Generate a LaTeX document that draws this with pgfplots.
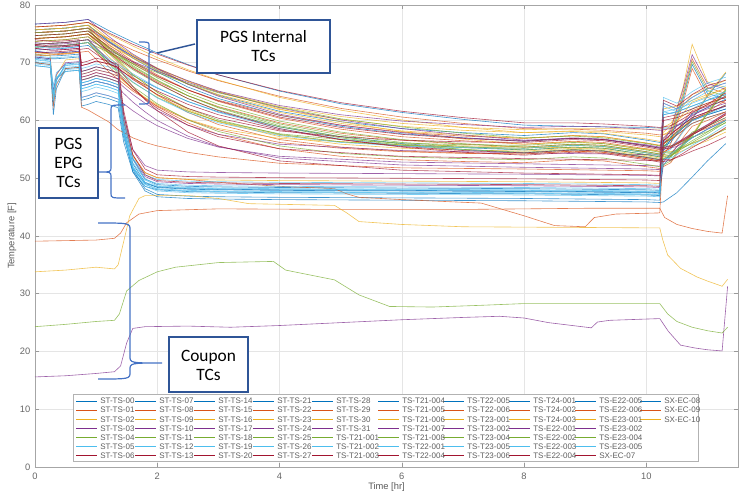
\documentclass[border=0pt]{standalone}
\usepackage{pgfplots}
\pgfplotsset{compat=1.18}
\usepackage{fontspec}
\setmainfont{Liberation Sans}
\newfontfamily\calibri{Carlito}
\definecolor{mb}{RGB}{0,114,189}
\definecolor{mo}{RGB}{217,83,25}
\definecolor{my}{RGB}{237,177,32}
\definecolor{mp}{RGB}{126,47,142}
\definecolor{mg}{RGB}{119,172,48}
\definecolor{mc}{RGB}{77,190,238}
\definecolor{mr}{RGB}{162,20,47}
\definecolor{legtext}{RGB}{95,95,95}
\definecolor{annblue}{RGB}{47,85,151}
\definecolor{brblue}{RGB}{68,114,196}
\begin{document}
\begin{tikzpicture}
\begin{axis}[
 scale only axis, width=527.25pt, height=346.5pt,
 xmin=0, xmax=11.5, ymin=0, ymax=80,
 xtick={0,2,4,6,8,10}, ytick={0,10,20,30,40,50,60,70,80},
 grid=major, major grid style={black!10, line width=0.4pt},
 axis line style={black!35, line width=0.4pt},
 tick style={black!40, line width=0.4pt}, tick align=inside, major tick length=3pt,
 ticklabel style={font=\fontsize{7}{8}\selectfont, text=black!60},
 xticklabel style={yshift=-1pt},
 /pgf/number format/assume math mode=true,
 xlabel={Time [hr]}, ylabel={Temperature [F]},
 label style={font=\fontsize{7}{8}\selectfont, text=black!65},
 xlabel style={at={(axis description cs:0.5,-0.044)}, anchor=center},
 ylabel style={at={(axis description cs:-0.0327,0.5)}, anchor=center},
 no markers,
 every axis plot/.append style={line width=0.45pt, opacity=0.75},
]
%%%%%%%% ROW 0 (blue)
\addplot[draw=mb] coordinates {(0,70)(0.25,69.7)(0.3,61)(0.35,65.5)(0.5,69)(0.72,69.2)(0.76,62.5)(0.87,62.8)(1,63.3)(1.2,62.8)(1.36,62.2)(1.45,56.3)(1.6,51.1)(1.8,48.6)(2,48.0)(2.5,47.7)(3,47.6)(4,47.5)(6,47.4)(8,47.3)(10,47.1)(10.22,47.0)(10.28,61)(10.5,61.5)(10.75,62.5)(11,63.5)(11.3,64.5)};
\addplot[draw=mb] coordinates {(0,71)(0.25,70.7)(0.3,70.7)(0.35,70.7)(0.5,70.8)(0.72,71)(0.76,67)(0.87,67.3)(1,67.8)(1.2,67.3)(1.36,66.7)(1.45,59.1)(1.6,52.5)(1.8,49.3)(2,48.4)(2.5,48.1)(3,48.0)(4,47.9)(6,47.8)(8,47.7)(10,47.5)(10.22,47.4)(10.28,56)(10.5,58)(10.75,60)(11,61)(11.3,62)};
\addplot[draw=mb] coordinates {(0,76.7)(0.5,77.0)(0.87,77.5)(1.2,75.6)(1.6,73.6)(2,71.7)(2.5,69.7)(3,67.9)(4,65.1)(5,62.9)(6,61.4)(7,60.2)(8,59.2)(8.8,59.0)(9.3,58.9)(10,58.8)(10.22,58.7)(10.4,58.7)(10.6,59.5)(10.75,60.2)(11,61.2)(11.3,62.7)};
\addplot[draw=mb] coordinates {(0,71.5)(0.25,71.2)(0.3,71.2)(0.35,71.2)(0.5,71.3)(0.72,71.5)(0.76,66.5)(0.87,66.8)(1,67.3)(1.2,66.8)(1.36,66.2)(1.45,58.4)(1.6,51.5)(1.8,48.2)(2,47.2)(2.5,46.9)(3,46.8)(4,46.7)(6,46.6)(8,46.5)(10,46.3)(10.22,46.2)(10.28,55.5)(10.5,57.5)(10.75,59.5)(11,60.5)(11.3,61.5)};
\addplot[draw=mb] coordinates {(0,69.5)(0.25,69.2)(0.3,65)(0.35,67.3)(0.5,68.5)(0.72,68.7)(0.76,66)(0.87,66.3)(1,66.8)(1.2,66.3)(1.36,65.7)(1.45,57.9)(1.6,51.1)(1.8,47.8)(2,46.8)(2.5,46.5)(3,46.4)(4,46.3)(6,46.2)(8,46.1)(10,45.9)(10.22,45.8)(10.28,45.9)(10.5,47.5)(10.75,50.2)(11,53.0)(11.3,56.0)};
\addplot[draw=mb] coordinates {(0,70.8)(0.25,70.5)(0.3,63)(0.35,66.9)(0.5,69.8)(0.72,70.0)(0.76,63.5)(0.87,63.8)(1,64.3)(1.2,63.8)(1.36,63.2)(1.45,57.1)(1.6,51.7)(1.8,49.1)(2,48.5)(2.5,48.2)(3,48.1)(4,48.0)(6,47.9)(8,47.8)(10,47.6)(10.22,47.5)(10.28,56)(10.5,58)(10.75,60)(11,61)(11.3,62)};
\addplot[draw=mb] coordinates {(0,75.7)(0.5,76.0)(0.87,76.5)(1.2,73.8)(1.6,71.1)(2,68.7)(2.5,66.3)(3,64.4)(4,61.6)(5,59.8)(6,58.6)(7,57.9)(8,57.4)(8.8,57.9)(9.3,57.7)(10,56.6)(10.22,56.2)(10.4,56.7)(10.6,58.7)(10.75,60.2)(11,64.2)(11.3,68.2)};
\addplot[draw=mb] coordinates {(0,72)(0.25,71.7)(0.3,71.7)(0.35,71.7)(0.5,71.8)(0.72,72)(0.76,68.5)(0.87,68.8)(1,69.3)(1.2,68.8)(1.36,68.2)(1.45,60.2)(1.6,53.3)(1.8,49.9)(2,48.9)(2.5,48.6)(3,48.5)(4,48.4)(6,48.3)(8,48.2)(10,48.0)(10.22,47.9)(10.28,52.3)(10.5,55)(10.75,57)(11,58.5)(11.3,60)};
\addplot[draw=mb] coordinates {(0,72.2)(0.5,72.5)(0.87,73)(1.2,70.5)(1.6,67.8)(2,65.6)(2.5,63.3)(3,61.5)(4,58.9)(5,57.2)(6,56.0)(7,55.3)(8,54.9)(8.8,55.4)(9.3,55.2)(10,54.1)(10.22,53.7)(10.4,56.7)(10.6,63.7)(10.75,69.7)(11,64.7)(11.3,63.7)};
\addplot[draw=mb] coordinates {(0,75.7)(0.5,76.0)(0.87,76.5)(1.2,73.7)(1.6,70.8)(2,68.4)(2.5,65.8)(3,63.8)(4,60.9)(5,59.0)(6,57.7)(7,57.0)(8,56.4)(8.8,56.9)(9.3,56.7)(10,55.6)(10.22,55.2)(10.4,56.2)(10.6,59.2)(10.75,61.2)(11,62.2)(11.3,63.7)};
%%%%%%%% ROW 1 (orange)
\addplot[draw=mo] coordinates {(0,75.2)(0.5,75.5)(0.87,76)(1.2,73.2)(1.6,70.3)(2,67.9)(2.5,65.3)(3,63.3)(4,60.4)(5,58.5)(6,57.2)(7,56.5)(8,55.9)(8.8,56.4)(9.3,56.2)(10,55.1)(10.22,54.7)(10.4,57.7)(10.6,64.7)(10.75,70.7)(11,65.7)(11.3,64.7)};
\addplot[draw=mo] coordinates {(0,73.7)(0.5,74.0)(0.87,74.5)(1.2,71.8)(1.6,69.1)(2,66.7)(2.5,64.3)(3,62.4)(4,59.6)(5,57.8)(6,56.6)(7,55.9)(8,55.4)(8.8,55.9)(9.3,55.7)(10,54.6)(10.22,54.2)(10.4,55.2)(10.6,58.2)(10.75,60.2)(11,61.2)(11.3,62.7)};
\addplot[draw=mo] coordinates {(0,75.2)(0.5,75.5)(0.87,76)(1.2,71.7)(1.6,67.5)(2,64.4)(2.5,61.4)(3,59.3)(4,56.7)(5,55.4)(6,54.7)(7,54.4)(8,54.2)(8.8,54.7)(9.3,54.5)(10,53.4)(10.22,53.0)(10.4,56.0)(10.6,63.0)(10.75,69.0)(11,64.0)(11.3,63.0)};
\addplot[draw=mo] coordinates {(0,75.2)(0.5,75.5)(0.87,76)(1.2,74.2)(1.6,72.2)(2,70.5)(2.5,68.6)(3,66.9)(4,64.2)(5,62.1)(6,60.6)(7,59.5)(8,58.6)(8.8,58.5)(9.3,58.3)(10,57.8)(10.22,57.5)(10.4,57.8)(10.6,59.0)(10.75,60.0)(11,61.5)(11.3,63.5)};
\addplot[draw=mo] coordinates {(0,74.2)(0.5,74.5)(0.87,75)(1.2,72.5)(1.6,69.8)(2,67.6)(2.5,65.3)(3,63.5)(4,60.9)(5,59.2)(6,58.0)(7,57.3)(8,56.9)(8.8,57.4)(9.3,57.2)(10,56.1)(10.22,55.7)(10.4,56.7)(10.6,59.7)(10.75,61.7)(11,62.7)(11.3,64.2)};
\addplot[draw=mo] coordinates {(0,70)(0.25,69.7)(0.3,62.5)(0.35,66.2)(0.5,69)(0.72,69.2)(0.76,62.3)(0.87,61.8)(1,61.0)(1.2,59.8)(1.36,58.4)(1.45,57.9)(1.6,57.0)(1.8,56.2)(2,55.6)(2.5,54.5)(3,53.7)(4,52.6)(6,51.8)(8,51.6)(10,51.3)(10.22,51.2)(10.28,54.5)(10.5,56)(10.75,57.5)(11,59)(11.3,61)};
\addplot[draw=mo] coordinates {(0,71.2)(0.5,71.5)(0.87,72)(1.2,68.5)(1.6,65.1)(2,62.5)(2.5,60.1)(3,58.4)(4,56.2)(5,55.2)(6,54.6)(7,54.3)(8,54.2)(8.8,54.7)(9.3,54.5)(10,53.4)(10.22,53.0)(10.4,54.0)(10.6,57.0)(10.75,59.0)(11,60.0)(11.3,61.5)};
\addplot[draw=mo] coordinates {(0,72.7)(0.5,73.0)(0.87,73.5)(1.2,69.4)(1.6,65.4)(2,62.4)(2.5,59.6)(3,57.6)(4,55.1)(5,53.8)(6,53.2)(7,52.9)(8,52.7)(8.8,53.2)(9.3,53.0)(10,52.0)(10.22,51.7)(10.4,52.7)(10.6,55.7)(10.75,57.7)(11,58.7)(11.3,60.2)};
\addplot[draw=mo] coordinates {(0,71.8)(0.3,71.5)(0.72,71.8)(0.76,67.5)(0.87,67.8)(1,68.3)(1.2,67.8)(1.36,67.2)(1.45,60.3)(1.6,54.0)(1.8,51.0)(2,50.1)(2.5,49.8)(3,49.3)(4,48.6)(4.9,48.2)(5.1,47.3)(5.3,46.7)(6,46.3)(7.3,45.7)(8,43.5)(8.5,41.8)(9,41.6)(9.15,43.2)(9.5,43.8)(10.22,44.0)(10.28,56)(10.5,57.5)(10.75,59.5)(11,60.5)(11.3,61.5)};
\addplot[draw=mo] coordinates {(0,39.1)(0.5,39.2)(1.0,39.3)(1.3,39.6)(1.4,40.5)(1.5,42.3)(1.7,43.8)(2.0,44.4)(3.0,44.7)(5.0,44.6)(7.0,44.6)(9.0,44.8)(10.22,44.8)(10.3,43.2)(10.5,42.0)(10.75,41.3)(11.0,40.8)(11.24,40.5)(11.33,47.0)};
%%%%%%%% ROW 2 (yellow)
\addplot[draw=my] coordinates {(0,75.7)(0.5,76.0)(0.87,76.5)(1.2,74.0)(1.6,71.3)(2,69.1)(2.5,66.8)(3,65.0)(4,62.4)(5,60.7)(6,59.5)(7,58.8)(8,58.4)(8.8,58.6)(9.3,58.6)(10,58.5)(10.22,58.5)(10.4,59.5)(10.6,62.5)(10.75,64.5)(11,65.5)(11.3,67.0)};
\addplot[draw=my] coordinates {(0,71.5)(0.25,71.2)(0.3,64)(0.35,67.8)(0.5,70.5)(0.72,70.7)(0.76,67)(0.87,67.3)(1,67.8)(1.2,67.3)(1.36,66.7)(1.45,59.8)(1.6,53.8)(1.8,50.9)(2,50.1)(2.5,49.8)(3,49.7)(4,49.6)(6,49.5)(8,49.4)(10,49.2)(10.22,49.1)(10.28,62)(10.5,62.5)(10.75,63.5)(11,64.5)(11.3,65.5)};
\addplot[draw=my] coordinates {(0,74.2)(0.5,74.5)(0.87,75)(1.2,71.1)(1.6,67.3)(2,64.4)(2.5,61.7)(3,59.8)(4,57.5)(5,56.3)(6,55.7)(7,55.3)(8,55.2)(8.8,55.7)(9.3,55.5)(10,54.4)(10.22,54.0)(10.4,54.0)(10.6,54.8)(10.75,55.5)(11,56.5)(11.3,58.0)};
\addplot[draw=my] coordinates {(0,76.2)(0.5,76.5)(0.87,77)(1.2,75.0)(1.6,72.9)(2,70.9)(2.5,68.8)(3,67.0)(4,64.0)(5,61.8)(6,60.1)(7,58.8)(8,57.9)(8.8,58.1)(9.3,57.8)(10,56.8)(10.22,56.4)(10.4,56.9)(10.6,58.9)(10.75,60.4)(11,64.4)(11.3,68.4)};
\addplot[draw=my] coordinates {(0,75.7)(0.5,76.0)(0.87,76.5)(1.2,72.2)(1.6,68.0)(2,64.9)(2.5,61.9)(3,59.8)(4,57.2)(5,55.9)(6,55.2)(7,54.9)(8,54.7)(8.8,55.2)(9.3,55.0)(10,53.9)(10.22,53.5)(10.4,54.0)(10.6,56.0)(10.75,57.5)(11,61.5)(11.3,65.5)};
\addplot[draw=my] coordinates {(0,75.2)(0.5,75.5)(0.87,76)(1.2,73.5)(1.6,70.8)(2,68.6)(2.5,66.3)(3,64.5)(4,61.9)(5,60.2)(6,59.0)(7,58.3)(8,57.9)(8.8,58.2)(9.3,58.1)(10,57.5)(10.22,57.2)(10.4,58.2)(10.6,61.2)(10.75,63.2)(11,64.2)(11.3,65.7)};
\addplot[draw=my] coordinates {(0,71.8)(0.25,71.5)(0.3,71.5)(0.35,71.5)(0.5,71.6)(0.72,71.8)(0.76,68)(0.87,68.3)(1,68.8)(1.2,68.3)(1.36,67.7)(1.45,66.8)(1.6,65.5)(1.8,64.0)(2,62.7)(2.5,60.2)(3,58.6)(4,56.9)(6,55.8)(8,55.4)(10,55.1)(10.22,55.0)(10.28,58)(10.5,60)(10.75,62)(11,63)(11.3,64)};
\addplot[draw=my] coordinates {(0,76.2)(0.5,76.5)(0.87,77)(1.2,74.2)(1.6,71.3)(2,68.9)(2.5,66.3)(3,64.3)(4,61.4)(5,59.5)(6,58.2)(7,57.5)(8,56.9)(8.8,57.4)(9.3,57.2)(10,56.1)(10.22,55.7)(10.4,58.7)(10.6,65.7)(10.75,73.2)(11,66.7)(11.3,65.7)};
\addplot[draw=my] coordinates {(0,74.2)(0.5,74.5)(0.87,75)(1.2,73.0)(1.6,70.9)(2,68.9)(2.5,66.8)(3,65.0)(4,62.0)(5,59.8)(6,58.1)(7,56.8)(8,55.9)(8.8,56.3)(9.3,56.0)(10,55.0)(10.22,54.6)(10.4,54.6)(10.6,55.4)(10.75,56.1)(11,57.1)(11.3,58.6)};
\addplot[draw=my] coordinates {(0,33.8)(0.5,34.1)(1.0,34.6)(1.3,34.3)(1.36,35.0)(1.45,39)(1.55,43.5)(1.7,46.5)(1.8,47.0)(2.5,47.0)(3.0,46.5)(3.5,45.6)(4.9,45.3)(5.1,44.0)(5.3,42.5)(6.0,42.0)(7.0,41.6)(10.22,41.4)(10.27,39.3)(10.35,36.7)(10.56,34.4)(10.83,32.9)(11.0,32.2)(11.24,31.3)(11.33,32.5)};
%%%%%%%% ROW 3 (purple)
\addplot[draw=mp] coordinates {(0,72)(0.25,71.7)(0.3,71.7)(0.35,71.7)(0.5,71.8)(0.72,72)(0.76,68)(0.87,68.3)(1,68.8)(1.2,68.3)(1.36,67.7)(1.45,60.9)(1.6,55.0)(1.8,52.2)(2,51.4)(2.5,51.1)(3,51.0)(4,50.9)(6,50.8)(8,50.7)(10,50.5)(10.22,50.4)(10.28,56.5)(10.5,58.5)(10.75,60.5)(11,61.5)(11.3,62.5)};
\addplot[draw=mp] coordinates {(0,72.5)(0.25,72.2)(0.3,72.2)(0.35,72.2)(0.5,72.3)(0.72,72.5)(0.76,66)(0.87,66.3)(1,66.8)(1.2,66.3)(1.36,65.7)(1.45,64.7)(1.6,63.2)(1.8,61.5)(2,60.0)(2.5,57.3)(3,55.5)(4,53.5)(6,52.3)(8,51.9)(10,51.6)(10.22,51.5)(10.28,55)(10.5,55.5)(10.75,57)(11,58.5)(11.3,60)};
\addplot[draw=mp] coordinates {(0,73.5)(0.25,73.2)(0.3,73.2)(0.35,73.2)(0.5,73.3)(0.72,73.5)(0.76,64)(0.87,64.3)(1,64.8)(1.2,64.3)(1.36,63.7)(1.45,62.9)(1.6,61.7)(1.8,60.3)(2,59.1)(2.5,56.9)(3,55.4)(4,53.8)(6,52.8)(8,52.5)(10,52.2)(10.22,52.1)(10.28,57)(10.5,59)(10.75,61)(11,62)(11.3,63)};
\addplot[draw=mp] coordinates {(0,73)(0.25,72.7)(0.3,72.7)(0.35,72.7)(0.5,72.8)(0.72,73)(0.76,67)(0.87,67.3)(1,67.8)(1.2,67.3)(1.36,66.7)(1.45,65.8)(1.6,64.5)(1.8,63.0)(2,61.7)(2.5,59.2)(3,57.6)(4,55.9)(6,54.8)(8,54.4)(10,54.1)(10.22,54.0)(10.28,63)(10.5,62)(10.75,64)(11,65.5)(11.3,66.5)};
\addplot[draw=mp] coordinates {(0,71)(0.25,70.7)(0.3,65)(0.35,68)(0.5,70)(0.72,70.2)(0.76,67.5)(0.87,67.8)(1,68.3)(1.2,67.8)(1.36,67.2)(1.45,59.8)(1.6,53.4)(1.8,50.3)(2,49.4)(2.5,49.1)(3,49.0)(4,48.9)(6,48.8)(8,48.7)(10,48.5)(10.22,48.4)(10.28,52.8)(10.5,55.5)(10.75,57.5)(11,59)(11.3,60.5)};
\addplot[draw=mp] coordinates {(0,73.2)(0.5,73.5)(0.87,74)(1.2,72.2)(1.6,70.2)(2,68.5)(2.5,66.6)(3,64.9)(4,62.2)(5,60.1)(6,58.6)(7,57.5)(8,56.6)(8.8,56.9)(9.3,56.7)(10,55.8)(10.22,55.4)(10.4,58.4)(10.6,65.4)(10.75,71.4)(11,66.4)(11.3,65.4)};
\addplot[draw=mp] coordinates {(0,76.7)(0.5,77.0)(0.87,77.5)(1.2,74.6)(1.6,71.5)(2,69.0)(2.5,66.3)(3,64.2)(4,61.1)(5,59.2)(6,57.9)(7,57.0)(8,56.5)(8.8,57.0)(9.3,56.8)(10,55.7)(10.22,55.3)(10.4,55.6)(10.6,56.8)(10.75,57.8)(11,59.3)(11.3,61.3)};
\addplot[draw=mp] coordinates {(0,75.2)(0.5,75.5)(0.87,76)(1.2,73.6)(1.6,71.1)(2,69.0)(2.5,66.9)(3,65.1)(4,62.6)(5,61.0)(6,59.9)(7,59.3)(8,58.8)(8.8,59.0)(9.3,58.9)(10,58.5)(10.22,58.3)(10.4,58.6)(10.6,59.8)(10.75,60.8)(11,62.3)(11.3,64.3)};
\addplot[draw=mp] coordinates {(0,15.6)(0.5,15.8)(1.0,16.2)(1.3,16.5)(1.4,17.5)(1.5,21.5)(1.6,24.0)(1.8,24.3)(2.5,24.4)(3.2,24.2)(4,24.5)(5,25.0)(6,25.5)(7,25.9)(7.6,26.1)(8,25.8)(8.4,25.0)(9.1,24.1)(9.2,25.1)(9.4,25.4)(10.22,25.7)(10.36,23.5)(10.56,21.1)(10.8,20.6)(11.0,20.3)(11.24,20.1)(11.33,31.3)};
%%%%%%%% ROW 4 (green)
\addplot[draw=mg] coordinates {(0,74.2)(0.5,74.5)(0.87,75)(1.2,72.2)(1.6,69.3)(2,66.9)(2.5,64.3)(3,62.3)(4,59.4)(5,57.5)(6,56.2)(7,55.5)(8,54.9)(8.8,55.4)(9.3,55.2)(10,54.1)(10.22,53.7)(10.4,54.0)(10.6,55.2)(10.75,56.2)(11,57.7)(11.3,59.7)};
\addplot[draw=mg] coordinates {(0,74.7)(0.5,75.0)(0.87,75.5)(1.2,72.6)(1.6,69.5)(2,67.0)(2.5,64.3)(3,62.2)(4,59.1)(5,57.2)(6,55.9)(7,55.0)(8,54.5)(8.8,55.0)(9.3,54.8)(10,53.7)(10.22,53.3)(10.4,53.8)(10.6,55.8)(10.75,57.3)(11,61.3)(11.3,65.3)};
\addplot[draw=mg] coordinates {(0,73.2)(0.5,73.5)(0.87,74)(1.2,69.9)(1.6,65.9)(2,62.9)(2.5,60.1)(3,58.1)(4,55.6)(5,54.3)(6,53.7)(7,53.4)(8,53.2)(8.8,53.7)(9.3,53.5)(10,52.4)(10.22,52.0)(10.4,53.0)(10.6,56.0)(10.75,58.0)(11,59.0)(11.3,60.5)};
\addplot[draw=mg] coordinates {(0,74.7)(0.5,75.0)(0.87,75.5)(1.2,72.7)(1.6,69.8)(2,67.4)(2.5,64.8)(3,62.8)(4,59.9)(5,58.0)(6,56.7)(7,56.0)(8,55.4)(8.8,55.9)(9.3,55.7)(10,54.6)(10.22,54.2)(10.4,57.2)(10.6,64.2)(10.75,70.2)(11,65.2)(11.3,64.2)};
\addplot[draw=mg] coordinates {(0,72.7)(0.5,73.0)(0.87,73.5)(1.2,70.0)(1.6,66.6)(2,64.0)(2.5,61.6)(3,59.9)(4,57.7)(5,56.7)(6,56.1)(7,55.8)(8,55.7)(8.8,56.2)(9.3,56.0)(10,54.9)(10.22,54.5)(10.4,54.5)(10.6,55.3)(10.75,56.0)(11,57.0)(11.3,58.5)};
\addplot[draw=mg] coordinates {(0,75.2)(0.5,75.5)(0.87,76)(1.2,71.9)(1.6,67.9)(2,64.9)(2.5,62.1)(3,60.1)(4,57.6)(5,56.3)(6,55.7)(7,55.4)(8,55.2)(8.8,55.7)(9.3,55.5)(10,54.4)(10.22,54.0)(10.4,54.3)(10.6,55.5)(10.75,56.5)(11,58.0)(11.3,60.0)};
\addplot[draw=mg] coordinates {(0,72.7)(0.5,73.0)(0.87,73.5)(1.2,71.8)(1.6,69.9)(2,68.3)(2.5,66.4)(3,64.8)(4,62.3)(5,60.3)(6,58.9)(7,57.8)(8,57.0)(8.8,57.3)(9.3,57.0)(10,56.0)(10.22,55.6)(10.4,55.6)(10.6,56.4)(10.75,57.1)(11,58.1)(11.3,59.6)};
\addplot[draw=mg] coordinates {(0,73.7)(0.5,74.0)(0.87,74.5)(1.2,71.7)(1.6,68.8)(2,66.4)(2.5,63.8)(3,61.8)(4,58.9)(5,57.0)(6,55.7)(7,55.0)(8,54.4)(8.8,54.9)(9.3,54.7)(10,53.6)(10.22,53.2)(10.4,53.7)(10.6,55.7)(10.75,57.2)(11,61.2)(11.3,65.2)};
\addplot[draw=mg] coordinates {(0,24.3)(0.5,24.7)(1.0,25.2)(1.3,25.4)(1.38,26.5)(1.5,30.5)(1.7,32.3)(2.0,33.8)(2.3,34.6)(3.0,35.4)(3.9,35.6)(4.1,34.1)(4.9,32.4)(5.3,29.8)(5.8,27.8)(6.5,27.7)(7.3,28.0)(8.0,28.3)(10.22,28.3)(10.35,26.5)(10.5,25.2)(10.75,24.2)(11.0,23.6)(11.24,23.2)(11.33,24.2)};
%%%%%%%% ROW 5 (cyan)
\addplot[draw=mc] coordinates {(0,70.5)(0.25,70.2)(0.3,64)(0.35,67.3)(0.5,69.5)(0.72,69.7)(0.76,66)(0.87,66.3)(1,66.8)(1.2,66.3)(1.36,65.7)(1.45,58.5)(1.6,52.1)(1.8,49.0)(2,48.2)(2.5,47.9)(3,47.8)(4,47.7)(6,47.6)(8,47.5)(10,47.3)(10.22,47.2)(10.28,63)(10.5,62)(10.75,64)(11,65.5)(11.3,66.5)};
\addplot[draw=mc] coordinates {(0,69.5)(0.25,69.2)(0.3,63.5)(0.35,66.5)(0.5,68.5)(0.72,68.7)(0.76,64)(0.87,64.3)(1,64.8)(1.2,64.3)(1.36,63.7)(1.45,57.4)(1.6,51.9)(1.8,49.3)(2,48.6)(2.5,48.3)(3,48.2)(4,48.1)(6,48.0)(8,47.9)(10,47.7)(10.22,47.6)(10.28,61.5)(10.5,62)(10.75,63)(11,64)(11.3,65)};
\addplot[draw=mc] coordinates {(0,70.2)(0.25,69.9)(0.3,64.5)(0.35,67.4)(0.5,69.2)(0.72,69.4)(0.76,65)(0.87,65.3)(1,65.8)(1.2,65.3)(1.36,64.7)(1.45,57.7)(1.6,51.6)(1.8,48.6)(2,47.8)(2.5,47.5)(3,47.4)(4,47.3)(6,47.2)(8,47.1)(10,46.9)(10.22,46.8)(10.28,62.5)(10.5,61.5)(10.75,63.5)(11,65)(11.3,66)};
\addplot[draw=mc] coordinates {(0,72.7)(0.5,73.0)(0.87,73.5)(1.2,70.8)(1.6,68.1)(2,65.7)(2.5,63.3)(3,61.4)(4,58.6)(5,56.8)(6,55.6)(7,54.9)(8,54.4)(8.8,54.9)(9.3,54.7)(10,53.6)(10.22,53.2)(10.4,53.5)(10.6,54.7)(10.75,55.7)(11,57.2)(11.3,59.2)};
\addplot[draw=mc] coordinates {(0,69.8)(0.25,69.5)(0.3,64.8)(0.35,67.3)(0.5,68.8)(0.72,69.0)(0.76,65.5)(0.87,65.8)(1,66.3)(1.2,65.8)(1.36,65.2)(1.45,58.1)(1.6,51.9)(1.8,48.9)(2,48.1)(2.5,47.8)(3,47.7)(4,47.6)(6,47.5)(8,47.4)(10,47.2)(10.22,47.1)(10.28,61)(10.5,61.5)(10.75,62.5)(11,63.5)(11.3,64.5)};
\addplot[draw=mc] coordinates {(0,71.2)(0.25,70.9)(0.3,70.9)(0.35,70.9)(0.5,71.0)(0.72,71.2)(0.76,65.5)(0.87,65.8)(1,66.3)(1.2,65.8)(1.36,65.2)(1.45,58.5)(1.6,52.7)(1.8,49.8)(2,49.1)(2.5,48.8)(3,48.7)(4,48.6)(6,48.5)(8,48.4)(10,48.2)(10.22,48.1)(10.28,61.5)(10.5,61)(10.75,62)(11,63.5)(11.3,65)};
\addplot[draw=mc] coordinates {(0,72.8)(0.25,72.5)(0.3,72.5)(0.35,72.5)(0.5,72.6)(0.72,72.8)(0.76,69)(0.87,69.3)(1,69.8)(1.2,69.3)(1.36,68.7)(1.45,60.5)(1.6,53.3)(1.8,49.7)(2,48.7)(2.5,48.4)(3,48.3)(4,48.2)(6,48.1)(8,48.0)(10,47.8)(10.22,47.7)(10.28,64)(10.5,63)(10.75,65)(11,66.5)(11.3,67.5)};
\addplot[draw=mc] coordinates {(0,73.2)(0.5,73.5)(0.87,74)(1.2,70.3)(1.6,66.7)(2,63.9)(2.5,61.4)(3,59.6)(4,57.4)(5,56.2)(6,55.6)(7,55.3)(8,55.2)(8.8,55.7)(9.3,55.5)(10,54.4)(10.22,54.0)(10.4,55.0)(10.6,58.0)(10.75,60.0)(11,61.0)(11.3,62.5)};
\addplot[draw=mc] coordinates {(0,70.6)(0.25,70.3)(0.3,66)(0.35,68.3)(0.5,69.6)(0.72,69.8)(0.76,66.5)(0.87,66.8)(1,67.3)(1.2,66.8)(1.36,66.2)(1.45,59.4)(1.6,53.5)(1.8,50.6)(2,49.8)(2.5,49.5)(3,49.4)(4,49.3)(6,49.2)(8,49.1)(10,48.9)(10.22,48.8)(10.28,53.2)(10.5,55)(10.75,57)(11,58.5)(11.3,60)};
%%%%%%%% ROW 6 (dark red)
\addplot[draw=mr] coordinates {(0,72.5)(0.25,72.2)(0.3,72.2)(0.35,72.2)(0.5,72.3)(0.72,72.5)(0.76,69.5)(0.87,69.8)(1,70.3)(1.2,69.8)(1.36,69.2)(1.45,61.1)(1.6,54.1)(1.8,50.6)(2,49.6)(2.5,49.3)(3,49.2)(4,49.1)(6,49.0)(8,48.9)(10,48.7)(10.22,48.6)(10.28,60.5)(10.5,61)(10.75,62)(11,63)(11.3,64)};
\addplot[draw=mr] coordinates {(0,74.7)(0.5,75.0)(0.87,75.5)(1.2,72.8)(1.6,70.1)(2,67.7)(2.5,65.3)(3,63.4)(4,60.6)(5,58.8)(6,57.6)(7,56.9)(8,56.4)(8.8,56.9)(9.3,56.7)(10,55.6)(10.22,55.2)(10.4,55.5)(10.6,56.7)(10.75,57.7)(11,59.2)(11.3,61.2)};
\addplot[draw=mr] coordinates {(0,73)(0.25,72.7)(0.3,72.7)(0.35,72.7)(0.5,72.8)(0.72,73)(0.76,70)(0.87,70.3)(1,70.8)(1.2,70.3)(1.36,69.7)(1.45,61.8)(1.6,54.9)(1.8,51.6)(2,50.6)(2.5,50.3)(3,50.2)(4,50.1)(6,50.0)(8,49.9)(10,49.7)(10.22,49.6)(10.28,63.5)(10.5,62.5)(10.75,64.5)(11,66)(11.3,67)};
\addplot[draw=mr] coordinates {(0,74)(0.25,73.7)(0.3,73.7)(0.35,73.7)(0.5,73.8)(0.72,74)(0.76,68.5)(0.87,68.8)(1,69.3)(1.2,68.8)(1.36,68.2)(1.45,67.1)(1.6,65.5)(1.8,63.7)(2,62.1)(2.5,59.2)(3,57.2)(4,55.1)(6,53.8)(8,53.4)(10,53.1)(10.22,53.0)(10.28,60)(10.5,60.5)(10.75,61.5)(11,62.5)(11.3,63.5)};
\addplot[draw=mr] coordinates {(0,74.2)(0.5,74.5)(0.87,75)(1.2,72.1)(1.6,69.0)(2,66.5)(2.5,63.8)(3,61.7)(4,58.6)(5,56.7)(6,55.4)(7,54.5)(8,54.0)(8.8,54.5)(9.3,54.3)(10,53.2)(10.22,52.8)(10.4,53.1)(10.6,54.3)(10.75,55.3)(11,56.8)(11.3,58.8)};
\addplot[draw=mr] coordinates {(0,71.7)(0.5,72.0)(0.87,72.5)(1.2,70.0)(1.6,67.3)(2,65.1)(2.5,62.8)(3,61.0)(4,58.4)(5,56.7)(6,55.5)(7,54.8)(8,54.4)(8.8,54.9)(9.3,54.7)(10,53.6)(10.22,53.2)(10.4,53.2)(10.6,54.0)(10.75,54.7)(11,55.7)(11.3,57.2)};
\addplot[draw=mr] coordinates {(0,73.2)(0.25,72.9)(0.3,72.9)(0.35,72.9)(0.5,73.0)(0.72,73.2)(0.76,69.5)(0.87,69.8)(1,70.3)(1.2,69.8)(1.36,69.2)(1.45,67.9)(1.6,65.9)(1.8,63.6)(2,61.7)(2.5,58.0)(3,55.6)(4,53.0)(6,51.4)(8,50.9)(10,50.6)(10.22,50.5)(10.28,56.5)(10.5,58.5)(10.75,60.5)(11,61.5)(11.3,62.5)};
\addplot[draw=mr] coordinates {(0,76.2)(0.5,76.5)(0.87,77)(1.2,75.2)(1.6,73.2)(2,71.5)(2.5,69.6)(3,67.9)(4,65.2)(5,63.1)(6,61.6)(7,60.5)(8,59.6)(8.8,59.6)(9.3,59.4)(10,59.0)(10.22,58.8)(10.4,59.1)(10.6,60.3)(10.75,61.3)(11,62.8)(11.3,64.8)};
\addplot[draw=mr] coordinates {(0,73.2)(0.5,73.5)(0.87,74)(1.2,70.5)(1.6,67.1)(2,64.5)(2.5,62.1)(3,60.4)(4,58.2)(5,57.2)(6,56.6)(7,56.3)(8,56.2)(8.8,56.7)(9.3,56.5)(10,55.4)(10.22,55.0)(10.4,55.3)(10.6,56.5)(10.75,57.5)(11,59.0)(11.3,61.0)};
\end{axis}
\begin{scope}[shift={(current axis.south west)}, xshift=-26.25pt, yshift=350.25pt, x=0.75pt, y=-0.75pt]
\pgfresetboundingbox
\path[use as bounding box] (0,0) rectangle (741,494);
% legend box
\draw[black!30, line width=0.4pt, fill=white] (73,394) rectangle (698,461);
% legend sample lines, one colour per row
\foreach \lc [count=\r from 0] in {mb,mo,my,mp,mg,mc,mr}{
  \foreach \tx [count=\c from 0] in {100,159,218,277,336,402,467,533,599,664}{
    \pgfmathtruncatemacro\k{\c*7+\r}
    \ifnum\k<66
      \draw[\lc, line width=0.5pt] ({\tx-24},{401+9.12*\r}) -- ({\tx-3},{401+9.12*\r});
    \fi
  }
}
% legend texts (column-major)
\foreach \nm [count=\i from 0] in {ST-TS-00,ST-TS-01,ST-TS-02,ST-TS-03,ST-TS-04,ST-TS-05,ST-TS-06,
 ST-TS-07,ST-TS-08,ST-TS-09,ST-TS-10,ST-TS-11,ST-TS-12,ST-TS-13,
 ST-TS-14,ST-TS-15,ST-TS-16,ST-TS-17,ST-TS-18,ST-TS-19,ST-TS-20,
 ST-TS-21,ST-TS-22,ST-TS-23,ST-TS-24,ST-TS-25,ST-TS-26,ST-TS-27,
 ST-TS-28,ST-TS-29,ST-TS-30,ST-TS-31,TS-T21-001,TS-T21-002,TS-T21-003,
 TS-T21-004,TS-T21-005,TS-T21-006,TS-T21-007,TS-T21-008,TS-T22-001,TS-T22-004,
 TS-T22-005,TS-T22-006,TS-T23-001,TS-T23-002,TS-T23-004,TS-T23-005,TS-T23-006,
 TS-T24-001,TS-T24-002,TS-T24-003,TS-E22-001,TS-E22-002,TS-E22-003,TS-E22-004,
 TS-E22-005,TS-E22-006,TS-E23-001,TS-E23-002,TS-E23-004,TS-E23-005,SX-EC-07,
 SX-EC-08,SX-EC-09,SX-EC-10}{
  \pgfmathtruncatemacro\c{floor(\i/7)}
  \pgfmathtruncatemacro\r{mod(\i,7)}
  \pgfmathsetmacro\tx{{100,159,218,277,336,402,467,533,599,664}[\c]}
  \node[anchor=west, inner sep=0pt, font=\fontsize{6}{7}\selectfont, text=legtext] at (\tx,{401+9.12*\r}) {\nm};
}
% braces and boxes
\draw[brblue, line width=0.9pt] (139,42) .. controls (149,42) .. (149,46) -- (149,48) .. controls (149,52) .. (153,52) .. controls (149,52) .. (149,56) -- (149,100) .. controls (149,104) .. (139,104);
\draw[brblue, line width=0.9pt] (125,105) .. controls (111,105) .. (111,110) -- (111,167) .. controls (111,172) .. (99,172) .. controls (111,172) .. (111,177) -- (111,193) .. controls (111,198) .. (125,198);
\draw[brblue, line width=0.9pt] (98,223) .. controls (130,223) .. (130,230) -- (130,356) .. controls (130,363) .. (162,363) .. controls (130,363) .. (130,370) -- (130,372) .. controls (130,379) .. (98,379);
\draw[annblue, line width=1.1pt] (157,53) -- (195,44);
\draw[annblue, line width=1.1pt, fill=white] (197,20) rectangle (330,73);
\node[font=\calibri\fontsize{13}{14.3}\selectfont, align=center] at (263.5,46.5) {PGS Internal\\TCs};
\draw[annblue, line width=1.1pt, fill=white] (39,128) rectangle (98,198);
\node[font=\calibri\fontsize{13}{14.3}\selectfont, align=center] at (68.5,163) {PGS\\EPG\\TCs};
\draw[annblue, line width=1.1pt, fill=white] (169,337) rectangle (248,392);
\node[font=\calibri\fontsize{13}{14.3}\selectfont, align=center] at (208.5,365) {Coupon\\TCs};
\end{scope}
\end{tikzpicture}
\end{document}
